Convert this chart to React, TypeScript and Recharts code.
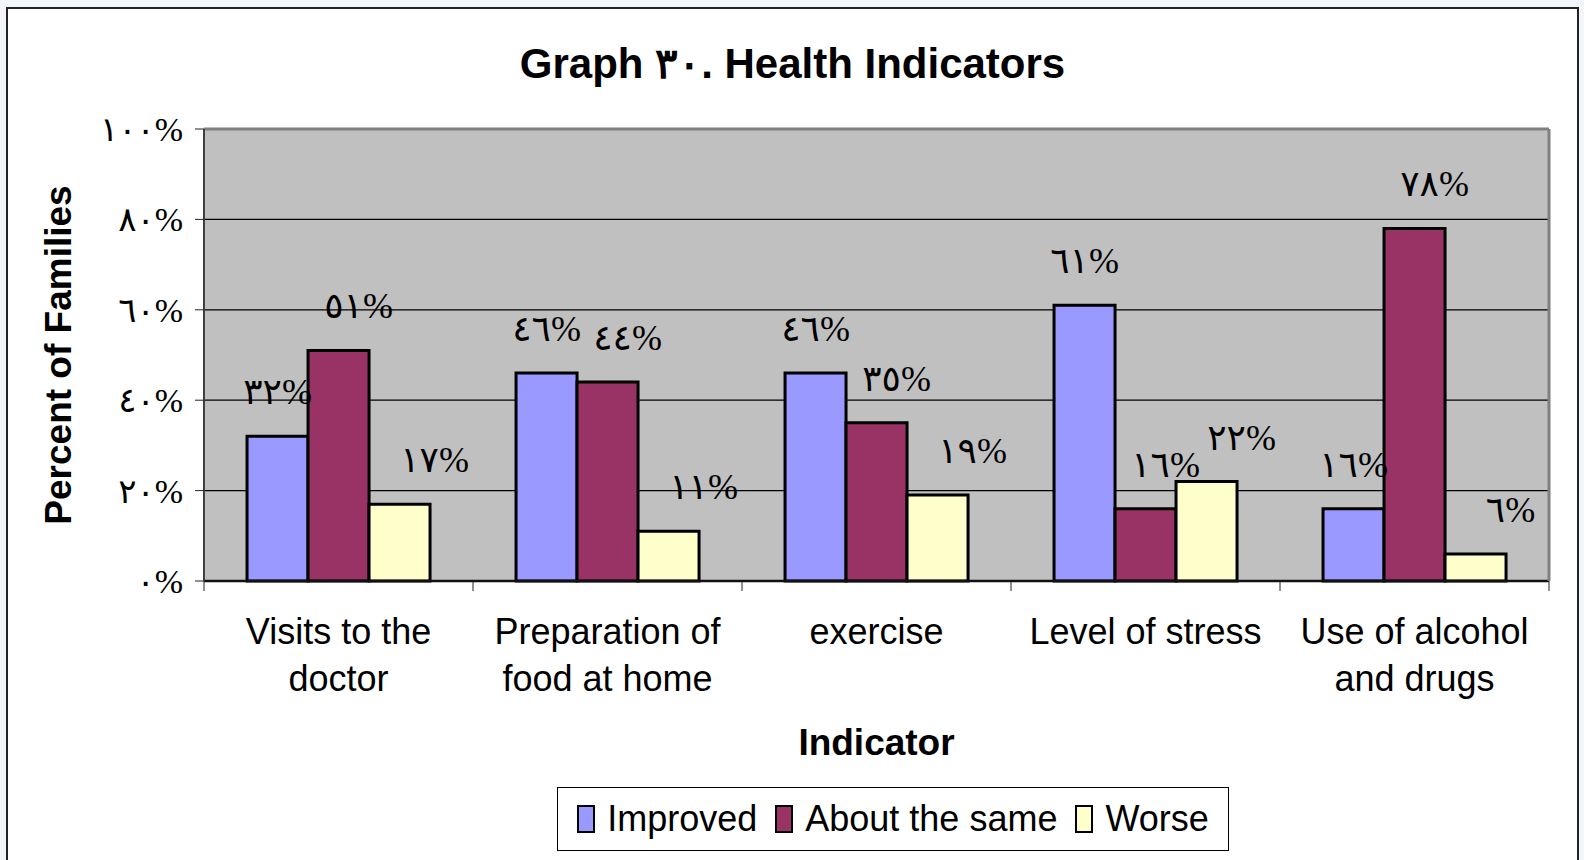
import {
  Bar,
  BarChart,
  CartesianGrid,
  Label,
  LabelList,
  Legend,
  ReferenceLine,
  XAxis,
  YAxis,
} from "recharts";

const categories = [
  "Visits to the doctor",
  "Preparation of food at home",
  "exercise",
  "Level of stress",
  "Use of alcohol and drugs",
];
const categoryLines = [
  ["Visits to the", "doctor"],
  ["Preparation of", "food at home"],
  ["exercise"],
  ["Level of stress"],
  ["Use of alcohol", "and drugs"],
];
const improved = [32, 46, 46, 61, 16];
const aboutSame = [51, 44, 35, 16, 78];
const worse = [17, 11, 19, 22, 6];
const yTicks = [0, 20, 40, 60, 80, 100];

const series = [
  { key: "improved", name: "Improved", color: "#9999FF", dx: 0 },
  { key: "aboutSame", name: "About the same", color: "#993366", dx: 20 },
  { key: "worse", name: "Worse", color: "#FFFFCC", dx: 35 },
];

const data = categories.map((name, i) => ({
  name,
  improved: improved[i],
  aboutSame: aboutSame[i],
  worse: worse[i],
}));

const arabicDigits = "٠١٢٣٤٥٦٧٨٩";
const toArabic = (v: number | string) =>
  String(v).replace(/\d/g, (d) => arabicDigits[Number(d)]);

const sans = "'Liberation Sans', Arial, sans-serif";
const serif = "'Liberation Serif', 'DejaVu Sans', serif";

function CategoryTick(props: any) {
  const { x, y, payload } = props;
  const idx = categories.indexOf(payload.value);
  const half = payload.offset ?? 0;
  const lines = categoryLines[idx] ?? [payload.value];
  return (
    <g>
      <line x1={x - half} x2={x - half} y1={y} y2={y + 10} stroke="#222" strokeWidth={1} />
      {idx === categories.length - 1 && (
        <line x1={x + half} x2={x + half} y1={y} y2={y + 10} stroke="#222" strokeWidth={1} />
      )}
      {lines.map((line, i) => (
        <text
          key={line}
          x={x}
          y={y + 63 + i * 47}
          textAnchor="middle"
          fontFamily={sans}
          fontSize={36}
          fill="#000"
        >
          {line}
        </text>
      ))}
    </g>
  );
}

function LegendBox() {
  return (
    <div style={{ paddingBottom: 9 }}>
      <div
        style={{
          width: 672,
          height: 64,
          boxSizing: "border-box",
          border: "1.5px solid #000",
          background: "#fff",
          display: "flex",
          alignItems: "center",
          justifyContent: "center",
          fontFamily: sans,
          fontSize: 36,
          color: "#000",
        }}
      >
        {series.map((s) => (
          <div key={s.key} style={{ display: "flex", alignItems: "center", margin: "0 9px" }}>
            <span
              style={{
                display: "inline-block",
                width: 14,
                height: 24,
                background: s.color,
                border: "2.5px solid #000",
                marginRight: 12,
              }}
            />
            <span>{s.name}</span>
          </div>
        ))}
      </div>
    </div>
  );
}

export default function App() {
  return (
    <div
      style={{
        position: "absolute",
        left: 0,
        top: 0,
        width: 1584,
        height: 860,
        background: "#F2F6FA",
        overflow: "hidden",
      }}
    >
      <div
        style={{
          position: "absolute",
          left: 6,
          top: 7,
          width: 1573,
          height: 853,
          boxSizing: "border-box",
          borderTop: "2px solid #222",
          borderLeft: "2px solid #222",
          borderRight: "2px solid #222",
          background: "#fff",
        }}
      >
        <div
          style={{
            position: "absolute",
            top: 30,
            left: 0,
            width: "100%",
            textAlign: "center",
            fontFamily: sans,
            fontWeight: "bold",
            fontSize: 42,
            color: "#000",
          }}
        >
          Graph ٣٠. Health Indicators
        </div>
        <BarChart
          width={1569}
          height={851}
          data={data}
          margin={{ top: 120, right: 27, bottom: 0, left: 0 }}
          barCategoryGap="16%"
          barGap={0}
        >
          <CartesianGrid
            vertical={false}
            fill="#C0C0C0"
            fillOpacity={1}
            stroke="#000"
            strokeWidth={1.2}
          />
          <XAxis
            dataKey="name"
            height={206}
            interval={0}
            tickLine={false}
            tickSize={0}
            tickMargin={0}
            axisLine={{ stroke: "#111", strokeWidth: 2.5 }}
            tick={<CategoryTick />}
          >
            <Label
              content={(p: any) => {
                const vb = p.viewBox;
                return (
                  <text
                    x={vb.x + vb.width / 2}
                    y={vb.y + 174}
                    textAnchor="middle"
                    fontFamily={sans}
                    fontWeight="bold"
                    fontSize={37}
                    fill="#000"
                  >
                    Indicator
                  </text>
                );
              }}
            />
          </XAxis>
          <YAxis
            width={196}
            domain={[0, 100]}
            ticks={yTicks}
            interval={0}
            tickSize={9}
            tickMargin={12}
            tickFormatter={(v) => toArabic(v) + "%"}
            tick={{ fontFamily: serif, fontSize: 34, fill: "#000" }}
            tickLine={{ stroke: "#222" }}
            axisLine={{ stroke: "#404040", strokeWidth: 2 }}
          >
            <Label
              content={(p: any) => {
                const vb = p.viewBox;
                const cx = vb.x + 50;
                const cy = vb.y + vb.height / 2;
                return (
                  <text
                    x={cx}
                    y={cy}
                    transform={`rotate(-90 ${cx} ${cy})`}
                    textAnchor="middle"
                    dominantBaseline="central"
                    fontFamily={sans}
                    fontWeight="bold"
                    fontSize={37}
                    fill="#000"
                  >
                    Percent of Families
                  </text>
                );
              }}
            />
          </YAxis>
          <YAxis
            yAxisId="right"
            orientation="right"
            width={1}
            tick={false}
            tickLine={false}
            axisLine={{ stroke: "#808080", strokeWidth: 3 }}
          />
          <ReferenceLine y={100} stroke="#808080" strokeWidth={3} />
          <Legend
            verticalAlign="bottom"
            content={<LegendBox />}
            wrapperStyle={{ left: 549, width: 672 }}
          />
          {series.map((s) => (
            <Bar
              key={s.key}
              dataKey={s.key}
              name={s.name}
              fill={s.color}
              stroke="#000"
              strokeWidth={3}
              isAnimationActive={false}
            >
              <LabelList
                dataKey={s.key}
                content={(p: any) => (
                  <text
                    x={p.x + p.width / 2 + s.dx}
                    y={p.y - 44}
                    textAnchor="middle"
                    dominantBaseline="central"
                    fontFamily={serif}
                    fontSize={36}
                    fill="#000"
                  >
                    {toArabic(p.value) + "%"}
                  </text>
                )}
              />
            </Bar>
          ))}
        </BarChart>
      </div>
    </div>
  );
}
